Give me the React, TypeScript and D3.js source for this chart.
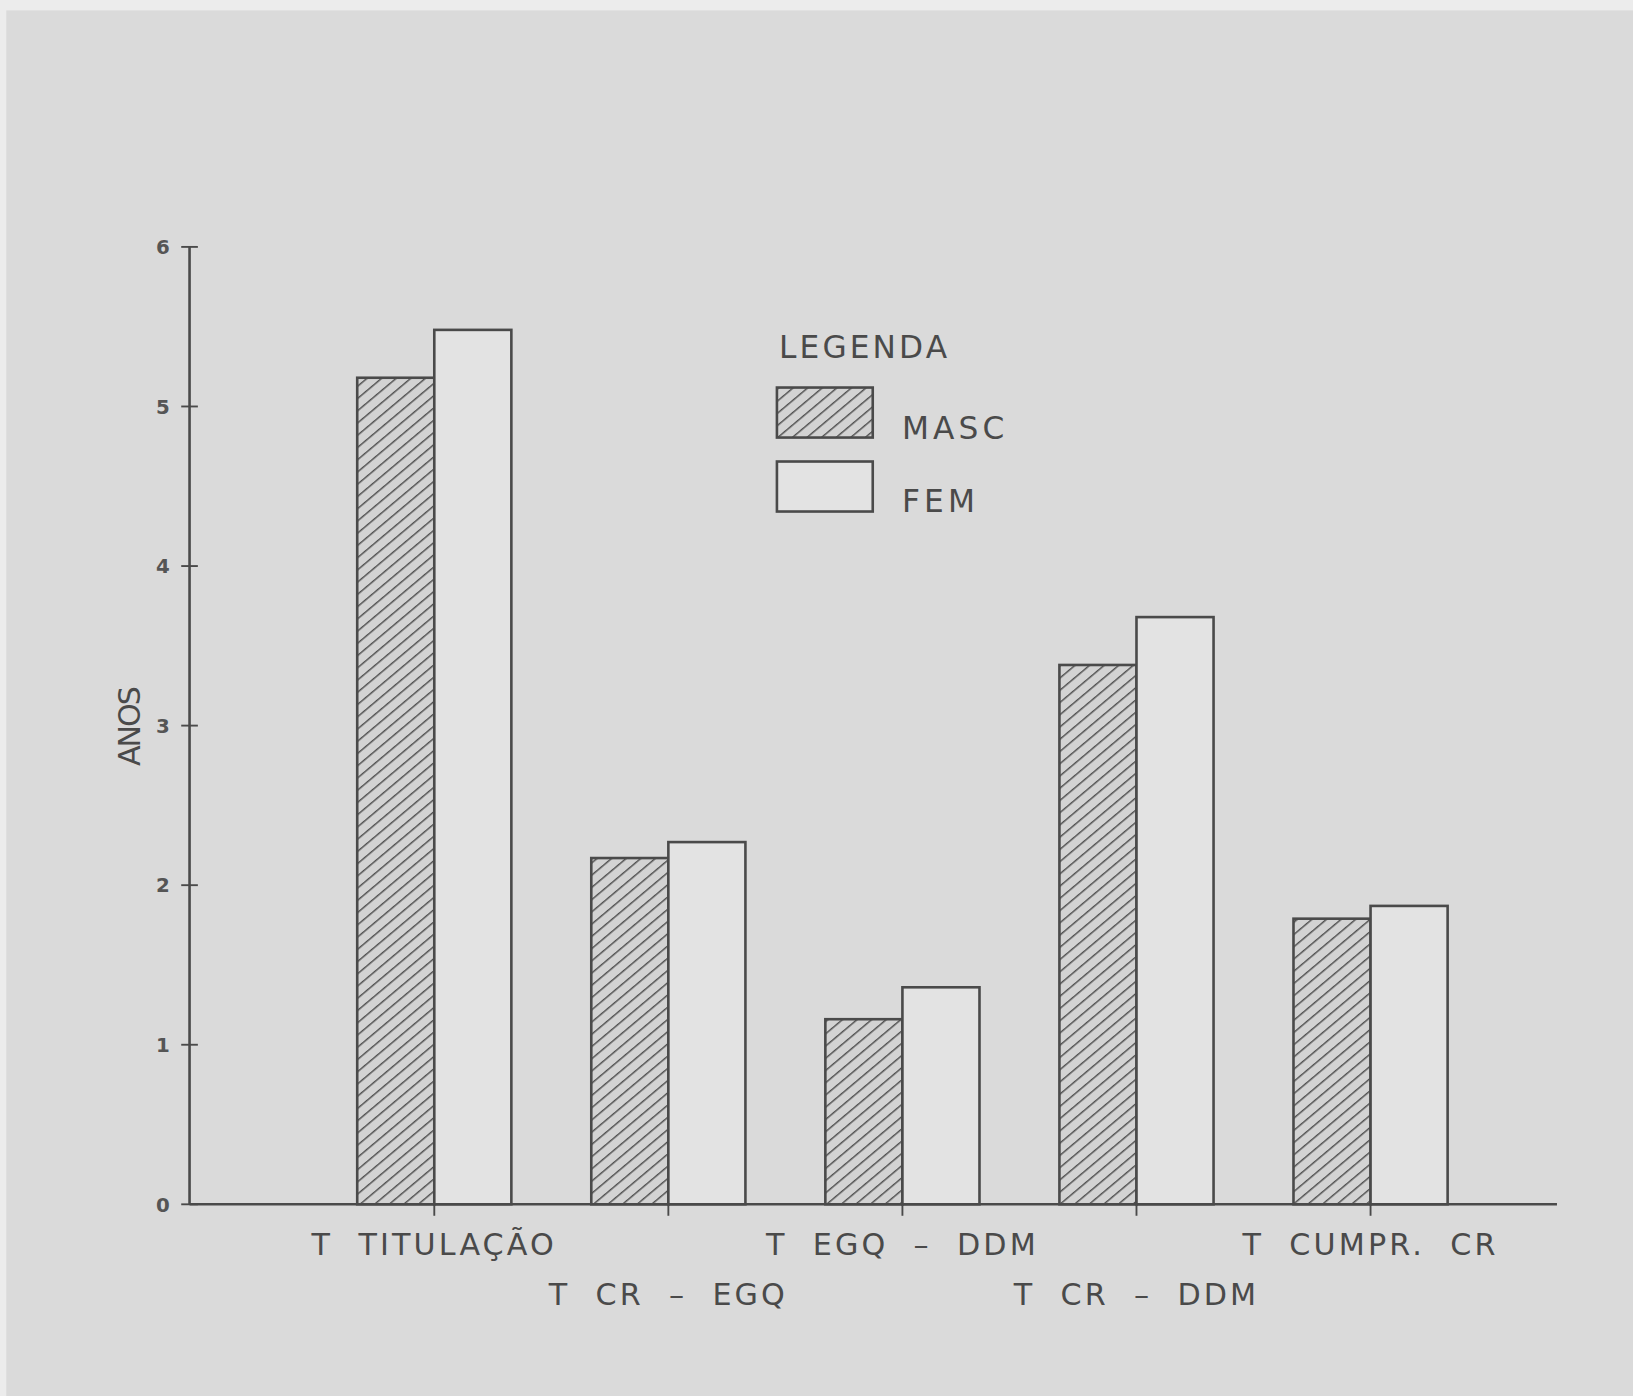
import * as d3 from "d3";
import * as React from "react";

// values (years)
const categories = ["T TITULAÇÃO", "T CR – EGQ", "T EGQ – DDM", "T CR – DDM", "T CUMPR. CR"];
const masc = [5.18, 2.17, 1.16, 3.38, 1.79];
const fem = [5.48, 2.27, 1.36, 3.68, 1.87];
const yTicks = [0, 1, 2, 3, 4, 5, 6];
const seriesNames = ["MASC", "FEM"];

const W = 1568;
const H = 1340;
const ink = "#4a4a4a";
const font = "'DejaVu Sans', 'Liberation Sans', sans-serif";

export default function App() {
  const axisX = 182;
  const axisRight = 1495;
  const y0 = 1156;
  const y6 = 237;
  const barW = 74;

  const y = d3.scaleLinear().domain([0, 6]).range([y0, y6]);
  // group centres = shared edge of the two bars
  const x = d3.scalePoint<string>().domain(categories).range([417, 1316]);

  const bars: JSX.Element[] = [];
  categories.forEach((c, i) => {
    const cx = x(c) as number;
    bars.push(
      <rect key={"m" + i} x={cx - barW} y={y(masc[i])} width={barW} height={y0 - y(masc[i])}
        fill="url(#hatch)" stroke={ink} strokeWidth={2.5} />
    );
    bars.push(
      <rect key={"f" + i} x={cx} y={y(fem[i])} width={barW} height={y0 - y(fem[i])}
        fill="#e3e3e3" stroke={ink} strokeWidth={2.5} />
    );
  });

  return (
    <div style={{ position: "absolute", left: 0, top: 0 }}>
      <svg width={1633} height={1396} viewBox={`0 0 ${W} ${H}`} preserveAspectRatio="none">
        <defs>
          <pattern id="hatch" patternUnits="userSpaceOnUse" width={9} height={9} patternTransform="rotate(50)">
            <rect width={9} height={9} fill="#d3d3d3" />
            <line x1={0} y1={0} x2={0} y2={9} stroke="#505050" strokeWidth={2.8} />
          </pattern>
        </defs>
        <rect x={0} y={0} width={W} height={H} fill="#ececec" />
        <rect x={6} y={10} width={W - 6} height={H - 10} fill="#dadada" />

        {/* y axis */}
        <line x1={axisX} y1={y6} x2={axisX} y2={y0} stroke={ink} strokeWidth={2.5} />
        {yTicks.map((t) => (
          <g key={"yt" + t}>
            <line x1={axisX - 8} x2={axisX + 8} y1={y(t)} y2={y(t)} stroke={ink} strokeWidth={1.8} />
            <text x={axisX - 19} y={y(t) + 7} textAnchor="end" fontFamily={font} fontSize={19}
              fontWeight="bold" fill="#555">{t}</text>
          </g>
        ))}
        <text transform={`translate(134,698) rotate(-90)`} textAnchor="middle" fontFamily={font}
          fontSize={29} fill={ink} style={{ letterSpacing: "-2px" }}>ANOS</text>

        {bars}

        {/* x axis */}
        <line x1={axisX} y1={y0} x2={axisRight} y2={y0} stroke={ink} strokeWidth={2.5} />
        {categories.map((c, i) => {
          const cx = x(c) as number;
          return (
            <g key={"xt" + i}>
              <line x1={cx} x2={cx} y1={y0} y2={y0 + 11} stroke={ink} strokeWidth={1.8} />
              <text x={cx} y={i % 2 === 0 ? 1205 : 1253} textAnchor="middle" fontFamily={font}
                fontSize={29} fill={ink} style={{ wordSpacing: "12px", letterSpacing: "3px" }}>{c}</text>
            </g>
          );
        })}

        {/* legend */}
        <text x={748} y={344} fontFamily={font} fontSize={30} fill={ink} style={{ letterSpacing: "3px" }}>LEGENDA</text>
        {seriesNames.map((s, i) => (
          <g key={"lg" + s}>
            <rect x={746} y={372 + i * 71} width={92} height={48} fill={i === 0 ? "url(#hatch)" : "#e3e3e3"}
              stroke={ink} strokeWidth={2.5} />
            <text x={866} y={421 + i * 70} fontFamily={font} fontSize={30} fill={ink}
              style={{ letterSpacing: "4px" }}>{s}</text>
          </g>
        ))}
      </svg>
    </div>
  );
}
